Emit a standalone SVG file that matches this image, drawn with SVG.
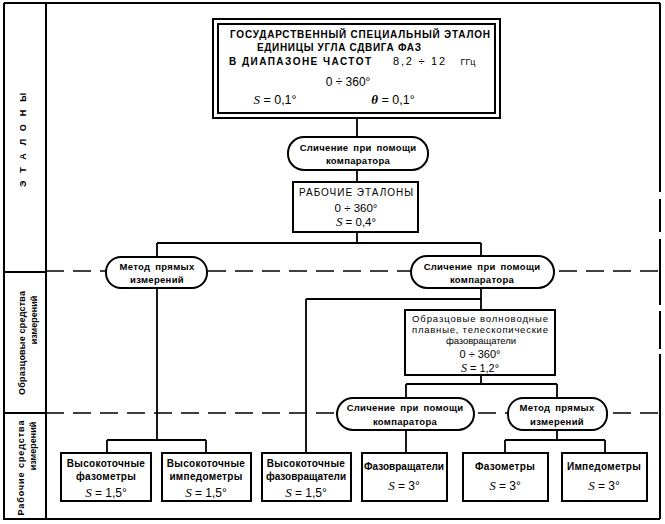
<svg xmlns="http://www.w3.org/2000/svg" width="665" height="524" viewBox="0 0 665 524">
<style>
.f{fill:none;stroke:#000;stroke-width:2}
.b{fill:#fff;stroke:#000;stroke-width:2}
.c{fill:none;stroke:#000;stroke-width:1.8}
.d{fill:none;stroke:#000;stroke-width:1.6;stroke-dasharray:18 9}
text{font-family:"Liberation Sans","DejaVu Sans",sans-serif;fill:#000;text-anchor:middle}
.t{font-size:10px;font-weight:bold}
.p{font-size:9.5px;font-weight:bold;letter-spacing:0.3px;word-spacing:2px}
.n{font-size:9.5px}
.m{font-size:11.5px}
.i{font-style:italic;font-family:"Liberation Serif",serif;font-size:13px}
.l{font-size:9px;font-weight:bold}
.q{font-size:10px;font-weight:bold;letter-spacing:0.3px}
</style>
<rect width="665" height="524" fill="#fff"/>
<g id="frame">
<path class="f" d="M4 3H660M4 3V519H660M46 3V519M4 272H46M4 413H46"/>
<path class="f" d="M660 3V192M660 199V232M660 239V305M660 311V349M660 354V519"/>
<path class="d" d="M46 271H660M46 413H660"/>
<text class="l" transform="translate(26,140) rotate(-90)" textLength="94" lengthAdjust="spacing">ЭТАЛОНЫ</text>
<text class="l" transform="translate(25,343) rotate(-90)" textLength="104" lengthAdjust="spacing">Образцовые средства</text>
<text class="l" transform="translate(37,320) rotate(-90)">измерений</text>
<text class="l" transform="translate(24,468) rotate(-90)" textLength="95" lengthAdjust="spacing">Рабочие средства</text>
<text class="l" transform="translate(36,446) rotate(-90)">измерений</text>
</g>
<g id="connectors">
<path class="c" d="M357 118V137M357 170V182M357 232V243M157 243H481M157 243V257M481 243V256"/>
<path class="c" d="M157 288V440M107 440H206M107 440V453M206 440V453"/>
<path class="c" d="M481 288V299M306 299H481M306 299V453M481 299V310"/>
<path class="c" d="M481 375V384M406 384H557M406 384V398M557 384V398"/>
<path class="c" d="M406 430V453M557 430V440M505 440H605M505 440V453M605 440V453"/>
</g>
<g id="state-standard">
<rect class="b" x="213" y="19" width="287" height="99" stroke-width="2.5"/>
<rect class="f" x="218" y="24" width="277" height="89"/>
<text class="t" x="360" y="38" textLength="260" lengthAdjust="spacing">ГОСУДАРСТВЕННЫЙ СПЕЦИАЛЬНЫЙ ЭТАЛОН</text>
<text class="t" x="339" y="51" textLength="164" lengthAdjust="spacing">ЕДИНИЦЫ УГЛА СДВИГА ФАЗ</text>
<text class="t" x="300" y="65" textLength="142" lengthAdjust="spacing">В ДИАПАЗОНЕ ЧАСТОТ</text>
<text class="m" x="419" y="65" style="font-size:11px" textLength="52" lengthAdjust="spacing">8,2 ÷ 12</text>
<text class="m" x="468" y="65" style="font-size:9px">ГГц</text>
<text class="m" x="348" y="86" style="font-size:12px">0 ÷ 360°</text>
<text class="m" x="275" y="104" style="font-size:12.5px"><tspan class="i">S</tspan> = 0,1°</text>
<text class="m" x="393" y="104" style="font-size:12.5px"><tspan class="i" font-weight="bold">θ</tspan> = 0,1°</text>
</g>
<g id="comparator-1">
<rect class="b" x="288" y="137" width="140" height="33" rx="16"/>
<text class="p" x="358" y="151">Сличение при помощи</text>
<text class="p" x="358" y="164">компаратора</text>
</g>
<g id="working-standards">
<rect class="b" x="293" y="182" width="125" height="50"/>
<text class="n" x="356" y="196" style="font-size:10px" textLength="114" lengthAdjust="spacing">РАБОЧИЕ ЭТАЛОНЫ</text>
<text class="m" x="356" y="212">0 ÷ 360°</text>
<text class="m" x="356" y="226"><tspan class="i">S</tspan> = 0,4°</text>
</g>
<g id="direct-1">
<rect class="b" x="106" y="257" width="101" height="31" rx="15"/>
<text class="p" x="157" y="270">Метод прямых</text>
<text class="p" x="157" y="283">измерений</text>
</g>
<g id="comparator-2">
<rect class="b" x="411" y="256" width="143" height="32" rx="16"/>
<text class="p" x="482" y="270">Сличение при помощи</text>
<text class="p" x="482" y="283">компаратора</text>
</g>
<g id="model-phase-shifters">
<rect class="b" x="405" y="310" width="150" height="65"/>
<text class="n" x="480" y="322" textLength="136" lengthAdjust="spacing">Образцовые волноводные</text>
<text class="n" x="480" y="333" textLength="136" lengthAdjust="spacing">плавные, телескопические</text>
<text class="n" x="481" y="344" textLength="70" lengthAdjust="spacing">фазовращатели</text>
<text class="m" x="480" y="358" style="font-size:11px">0 ÷ 360°</text>
<text class="m" x="480" y="372" style="font-size:11px"><tspan class="i" style="font-size:12px">S</tspan> = 1,2°</text>
</g>
<g id="comparator-3">
<rect class="b" x="337" y="398" width="137" height="32" rx="16"/>
<text class="p" x="405" y="411">Сличение при помощи</text>
<text class="p" x="405" y="425">компаратора</text>
</g>
<g id="direct-2">
<rect class="b" x="508" y="398" width="99" height="32" rx="15"/>
<text class="p" x="557" y="411">Метод прямых</text>
<text class="p" x="557" y="425">измерений</text>
</g>
<g id="hp-phasemeters">
<rect class="b" x="61" y="453" width="90" height="48"/>
<text class="q" x="106" y="467">Высокоточные</text>
<text class="q" x="106" y="480">фазометры</text>
<text class="m" x="106" y="497" style="font-size:12px"><tspan class="i">S</tspan> = 1,5°</text>
</g>
<g id="hp-impedometers">
<rect class="b" x="162" y="453" width="89" height="48"/>
<text class="q" x="206" y="467">Высокоточные</text>
<text class="q" x="206" y="480">импедометры</text>
<text class="m" x="206" y="497" style="font-size:12px"><tspan class="i">S</tspan> = 1,5°</text>
</g>
<g id="hp-phase-shifters">
<rect class="b" x="262" y="453" width="89" height="48"/>
<text class="q" x="306" y="467">Высокоточные</text>
<text class="q" x="306" y="480" style="letter-spacing:0">фазовращатели</text>
<text class="m" x="306" y="497" style="font-size:12px"><tspan class="i">S</tspan> = 1,5°</text>
</g>
<g id="phase-shifters">
<rect class="b" x="362" y="453" width="85" height="48"/>
<text class="q" x="404" y="470" style="letter-spacing:0">Фазовращатели</text>
<text class="m" x="404" y="490" style="font-size:12px"><tspan class="i">S</tspan> = 3°</text>
</g>
<g id="phasemeters">
<rect class="b" x="463" y="453" width="85" height="48"/>
<text class="q" x="505" y="470">Фазометры</text>
<text class="m" x="505" y="490" style="font-size:12px"><tspan class="i">S</tspan> = 3°</text>
</g>
<g id="impedometers">
<rect class="b" x="562" y="453" width="85" height="48"/>
<text class="q" x="604" y="470">Импедометры</text>
<text class="m" x="604" y="490" style="font-size:12px"><tspan class="i">S</tspan> = 3°</text>
</g>
</svg>
